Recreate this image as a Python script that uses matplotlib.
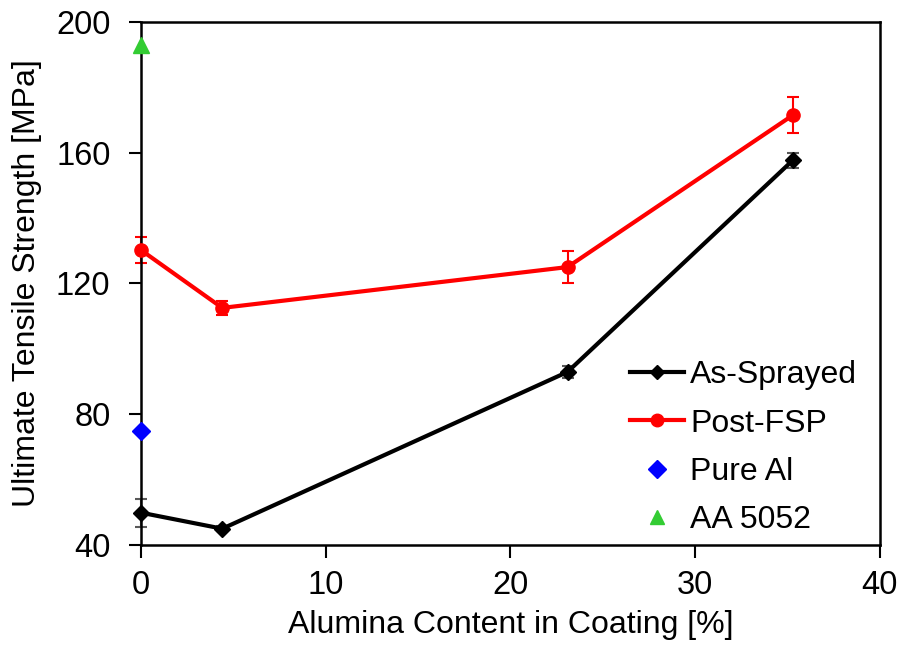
import matplotlib.pyplot as plt
from matplotlib.lines import Line2D

plt.rcParams["font.family"] = ["Liberation Sans", "DejaVu Sans"]

alumina = [0.0, 4.4, 23.1, 35.3]
as_sprayed = [49.8, 44.9, 92.9, 157.7]
as_sprayed_err = [4.3, 0.8, 1.8, 2.3]
post_fsp = [130.2, 112.5, 125.0, 171.5]
post_fsp_err = [4.0, 2.2, 4.9, 5.5]
pure_al_x = [0.0]
pure_al = [74.9]
aa5052_x = [0.0]
aa5052 = [193.0]

fig = plt.figure(figsize=(9.04, 6.5), dpi=100)
ax = fig.add_axes([0.156, 0.162, 0.817, 0.804])

ax.errorbar(alumina, as_sprayed, yerr=as_sprayed_err, fmt="none", ecolor="#595959",
            elinewidth=1.5, capsize=4, capthick=1.5, zorder=2, clip_on=False)
ax.plot(alumina, as_sprayed, color="black", marker="D", markersize=8, linewidth=3,
        zorder=3, clip_on=False)
ax.errorbar(alumina, post_fsp, yerr=post_fsp_err, fmt="none", ecolor="#ff0000",
            elinewidth=1.5, capsize=4, capthick=1.5, zorder=2, clip_on=False)
ax.plot(alumina, post_fsp, color="#ff0000", marker="o", markersize=9.5, linewidth=3,
        zorder=3, clip_on=False)
ax.plot(pure_al_x, pure_al, linestyle="none", marker="D", markersize=9,
        color="#0000ff", zorder=4, clip_on=False)
ax.plot(aa5052_x, aa5052, linestyle="none", marker="^", markersize=11,
        color="#33cc33", zorder=4, clip_on=False)

ax.set_xlim(0, 40)
ax.set_ylim(40, 200)
ax.set_xticks([0, 10, 20, 30, 40])
ax.set_yticks([40, 80, 120, 160, 200])
ax.tick_params(labelsize=23.5, direction="out", length=9, width=1.5)
ax.tick_params(axis="x", pad=9)
ax.tick_params(axis="y", pad=13)
for s in ax.spines.values():
    s.set_linewidth(1.8)

ax.set_xlabel("Alumina Content in Coating [%]", fontsize=23, labelpad=7)
ax.set_ylabel("Ultimate Tensile Strength [MPa]", fontsize=23, labelpad=10)

handles = [
    Line2D([], [], color="black", marker="D", markersize=7, linewidth=3),
    Line2D([], [], color="#ff0000", marker="o", markersize=9, linewidth=3),
    Line2D([], [], color="#0000ff", marker="D", markersize=9.5, linestyle="none"),
    Line2D([], [], color="#33cc33", marker="^", markersize=10.5, linestyle="none"),
]
labels = ["As-Sprayed", "Post-FSP", "Pure Al", "AA 5052"]
ax.legend(handles, labels, loc="lower right", frameon=False, fontsize=23,
          handlelength=1.7, handletextpad=0.2, labelspacing=0.575,
          bbox_to_anchor=(1.0, -0.025), borderaxespad=0.3)

fig.savefig("out.png", dpi=100)
